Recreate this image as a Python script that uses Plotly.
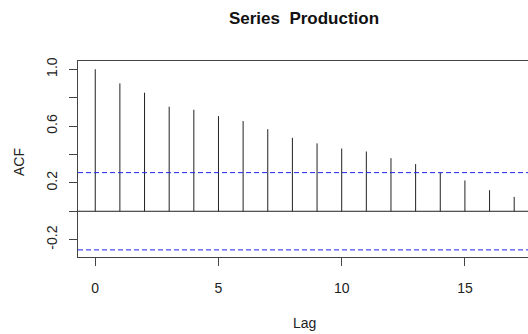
import plotly.graph_objects as go

lags = list(range(18))
acf_values = [1.0, 0.90, 0.835, 0.736, 0.715, 0.670, 0.635, 0.578, 0.517,
              0.478, 0.442, 0.421, 0.374, 0.332, 0.273, 0.217, 0.148, 0.101]
conf_bound = 0.272
x_ticks = [0, 5, 10, 15]
y_ticks = [-0.2, 0.0, 0.2, 0.4, 0.6, 0.8, 1.0]
y_tick_labels = ["-0.2", "", "0.2", "", "0.6", "", "1.0"]

FONT = "Liberation Sans, Arial, sans-serif"
AX = "#444444"
L, T, B = 78, 61, 77
W, H = 528, 334
pw, ph = W - L, H - T - B

fig = go.Figure()

# ACF spikes
xs, ys = [], []
for l, v in zip(lags, acf_values):
    xs += [l, l, None]
    ys += [0, v, None]
fig.add_trace(go.Scatter(x=xs, y=ys, mode="lines",
                         line=dict(color="#222222", width=1),
                         hoverinfo="skip", showlegend=False))

xr = [-0.70, 17.56]
# zero line
fig.add_trace(go.Scatter(x=xr, y=[0, 0], mode="lines",
                         line=dict(color="#222222", width=1),
                         hoverinfo="skip", showlegend=False))
# confidence bounds
for b in (conf_bound, -conf_bound):
    fig.add_trace(go.Scatter(x=xr, y=[b, b], mode="lines",
                             line=dict(color="#2222ff", width=1, dash="5px,3px"),
                             hoverinfo="skip", showlegend=False))


def ann(text, px, py, angle=0):
    return dict(text=text, x=(px - L) / pw, y=(H - B - py) / ph,
                xref="paper", yref="paper", showarrow=False,
                textangle=angle, font=dict(size=14),
                xanchor="center", yanchor="middle")


fig.update_layout(
    width=W, height=H,
    margin=dict(l=L, r=0, t=T, b=B),
    plot_bgcolor="white", paper_bgcolor="white",
    font=dict(family=FONT, size=14, color="#222222"),
    title=dict(text="<b>Series\u00a0 Production</b>", x=304 / W, xanchor="center",
               xref="container", y=1 - 18 / H, yref="container", yanchor="middle",
               font=dict(size=17, family=FONT, color="#111111")),
    xaxis=dict(range=xr, tickvals=x_ticks, ticktext=[str(t) for t in x_ticks],
               showgrid=False, zeroline=False, showline=True, mirror=True,
               linecolor=AX, linewidth=1, ticks="outside", ticklen=8,
               tickcolor=AX, tickfont=dict(size=14), ticklabelstandoff=10),
    yaxis=dict(range=[-0.322, 1.058], tickvals=y_ticks, ticktext=y_tick_labels,
               showgrid=False, zeroline=False, showline=True, mirror=False,
               linecolor=AX, linewidth=1, ticks="outside", ticklen=8,
               tickcolor=AX, tickangle=-90, tickfont=dict(size=14),
               ticklabelstandoff=6),
    annotations=[ann("Lag", 304, 323), ann("ACF", 19, 162, -90)],
)

fig.write_html("out.html", config={"displayModeBar": False},
               post_script="document.body.style.margin='0';document.body.style.overflow='hidden';")
